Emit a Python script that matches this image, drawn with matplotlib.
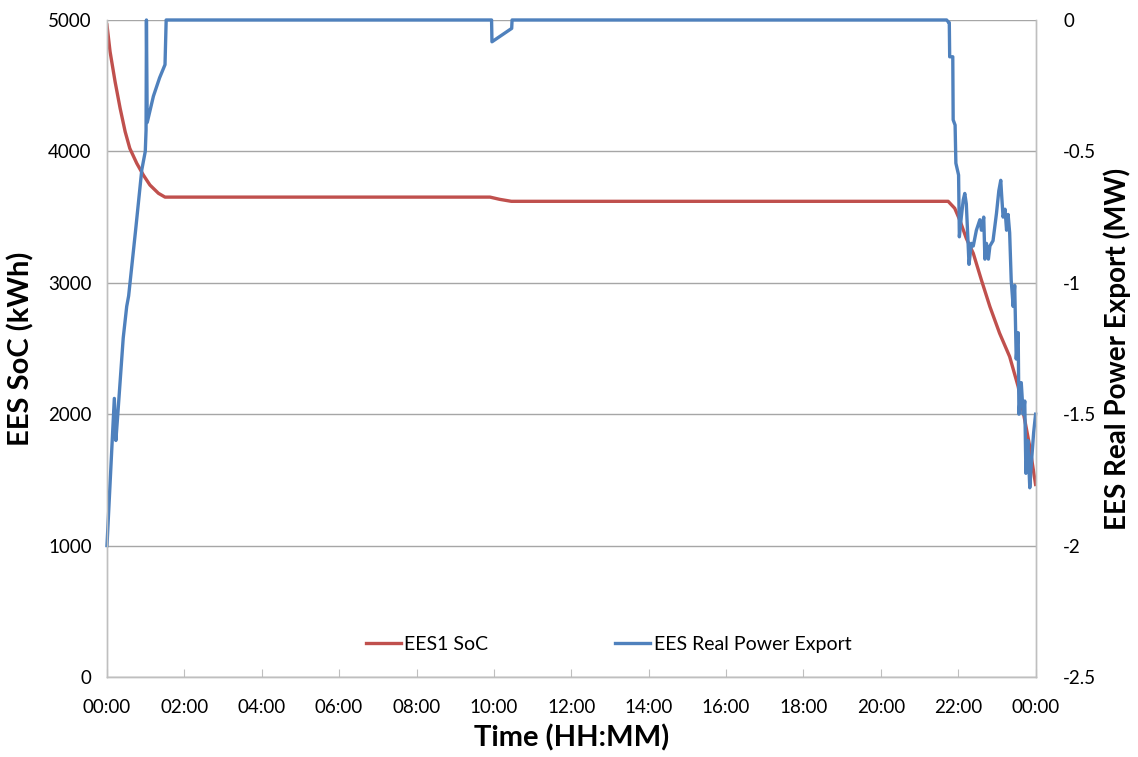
import numpy as np
import matplotlib.pyplot as plt

plt.rcParams['font.family'] = ['Lato', 'DejaVu Sans']

# time in hours since midnight
soc_t = [0, 0.08, 0.21, 0.34, 0.47, 0.59, 0.77, 0.94, 1.11, 1.33, 1.5, 9.9, 10.15, 10.45,
         21.74, 21.91, 22.04, 22.21, 22.39, 22.6, 22.82, 23.07, 23.33, 23.55,
         23.72, 23.85, 24.0]
soc_kwh = [4962, 4759, 4530, 4328, 4150, 4023, 3909, 3820, 3744, 3681, 3652, 3652, 3635, 3620,
           3620, 3567, 3478, 3338, 3224, 3021, 2818, 2616, 2438, 2210,
           1956, 1753, 1465]

p_t = [0, 0.19, 0.23, 0.28, 0.42, 0.51, 0.56, 0.74, 0.9, 0.99, 1.01, 1.02,
       1.04, 1.2, 1.36, 1.5, 1.53,
       9.94, 9.95, 10.46, 10.47,
       21.70, 21.76, 21.77, 21.78, 21.86, 21.87, 21.92, 21.94, 22.01, 22.03,
       22.08, 22.13, 22.17, 22.21, 22.28, 22.34, 22.39, 22.47, 22.56, 22.6, 22.66,
       22.69, 22.73, 22.78, 22.82, 22.9, 22.99, 23.05, 23.1, 23.12, 23.16, 23.21,
       23.25, 23.29, 23.33, 23.37, 23.42, 23.46, 23.5, 23.55, 23.57, 23.63, 23.68,
       23.72, 23.75, 23.8, 23.85, 23.89, 23.95, 24.0]
p_mw = [-2.0, -1.44, -1.6, -1.5, -1.21, -1.09, -1.05, -0.8, -0.57, -0.5, -0.42, 0,
        -0.39, -0.29, -0.22, -0.17, 0,
        0, -0.083, -0.032, 0,
        0, -0.01, -0.01, -0.14, -0.14, -0.38, -0.4, -0.545, -0.59, -0.825,
        -0.75, -0.685, -0.66, -0.7, -0.93, -0.85, -0.86, -0.8, -0.76, -0.8, -0.75,
        -0.91, -0.85, -0.91, -0.86, -0.84, -0.735, -0.65, -0.61, -0.66, -0.75, -0.72,
        -0.8, -0.74, -0.81, -0.99, -1.09, -1.01, -1.29, -1.19, -1.5, -1.38, -1.5,
        -1.45, -1.725, -1.6, -1.78, -1.69, -1.57, -1.5]

x_ticks = list(range(0, 25, 2))
x_labels = ['00:00', '02:00', '04:00', '06:00', '08:00', '10:00', '12:00',
            '14:00', '16:00', '18:00', '20:00', '22:00', '00:00']

red = '#C0504D'
blue = '#4F81BD'
grey = '#A6A6A6'

fig = plt.figure(figsize=(11.38, 7.57), dpi=100)
ax = fig.add_axes([0.094, 0.1057, 0.816, 0.8679])
ax2 = ax.twinx()

l1, = ax.plot(soc_t, soc_kwh, color=red, lw=2.4, label='EES1 SoC')
l2, = ax2.plot(p_t, p_mw, color=blue, lw=2.4, label='EES Real Power Export', clip_on=False)

ax.set_xlim(0, 24)
ax.set_ylim(0, 5000)
ax2.set_ylim(-2.5, 0)
ax.set_yticks(range(0, 5001, 1000))
ax2.set_yticks([0, -0.5, -1, -1.5, -2, -2.5])
ax2.set_yticklabels(['0', '-0.5', '-1', '-1.5', '-2', '-2.5'])
ax.set_xticks(x_ticks)
ax.set_xticklabels(x_labels)

ax.grid(axis='y', color=grey, lw=1)
ax.set_axisbelow(True)
for a in (ax, ax2):
    for s in a.spines.values():
        s.set_color('#BFBFBF')
        s.set_linewidth(1)
    a.spines['top'].set_visible(False)

ax.tick_params(axis='x', direction='in', length=6, color='#BFBFBF', labelsize=13.5, pad=16)
ax.tick_params(axis='y', length=0, labelsize=13.5, pad=11)
ax2.tick_params(axis='y', length=0, labelsize=13.5, pad=20)

ax.set_xlabel('Time (HH:MM)', fontsize=21, fontweight='bold', labelpad=6)
ax.set_ylabel('EES SoC (kWh)', fontsize=21, fontweight='bold', labelpad=10)
ax2.set_ylabel('EES Real Power Export (MW)', fontsize=20, fontweight='bold', labelpad=5)

ax2.legend(handles=[l1, l2], loc='center', bbox_to_anchor=(0.54, 0.05), ncol=2,
           frameon=False, fontsize=14, handlelength=1.8, handletextpad=0.2,
           columnspacing=6.5)

fig.savefig('out.png', dpi=100)
